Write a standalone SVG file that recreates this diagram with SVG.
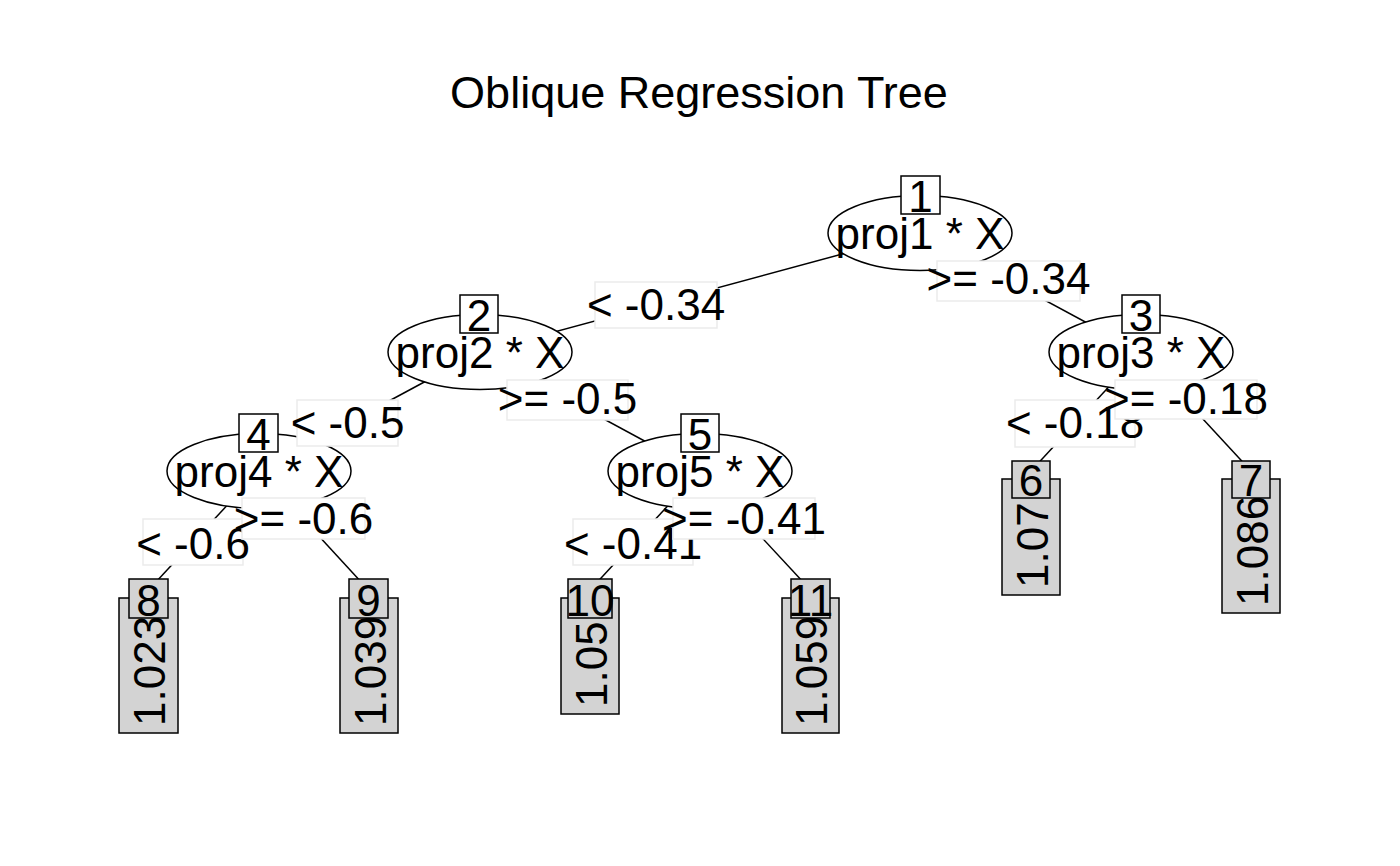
<svg xmlns="http://www.w3.org/2000/svg" width="1400" height="866" viewBox="0 0 1400 866">
<style>
text{font-family:"Liberation Sans",Arial,sans-serif;font-size:44px;fill:#000}
.c{text-anchor:middle}
.t{font-size:45px}
.e{stroke:#000;stroke-width:1.5;fill:none}
.ell{fill:#fff;stroke:#000;stroke-width:1.5}
.nb{fill:#fff;stroke:#000;stroke-width:1.5}
.tb{fill:#d3d3d3;stroke:#000;stroke-width:1.5}
.lb{fill:#fff;stroke:#ebebeb;stroke-width:1.5}
</style>
<rect width="1400" height="866" fill="#fff"/>
<text class="c t" x="699" y="108">Oblique Regression Tree</text>
<g id="edges">
<line class="e" x1="920" y1="233" x2="480" y2="352"/>
<line class="e" x1="920" y1="233" x2="1141" y2="352"/>
<line class="e" x1="480" y1="352" x2="259" y2="471"/>
<line class="e" x1="480" y1="352" x2="700" y2="471"/>
<line class="e" x1="1141" y1="352" x2="1031" y2="471"/>
<line class="e" x1="1141" y1="352" x2="1251" y2="471"/>
<line class="e" x1="259" y1="471" x2="148.5" y2="590"/>
<line class="e" x1="259" y1="471" x2="368.5" y2="590"/>
<line class="e" x1="700" y1="471" x2="590" y2="590"/>
<line class="e" x1="700" y1="471" x2="810.5" y2="590"/>
</g>
<g id="node1"><ellipse class="ell" cx="920" cy="233" rx="92" ry="37.5"/><rect class="nb" x="901" y="176" width="39" height="38"/><text class="c" x="920.5" y="212">1</text><text class="c" x="920" y="249">proj1 * X</text></g>
<g id="node2"><ellipse class="ell" cx="480" cy="352" rx="92" ry="37.5"/><rect class="nb" x="460" y="295" width="38" height="38"/><text class="c" x="479" y="331">2</text><text class="c" x="480" y="368">proj2 * X</text></g>
<g id="node3"><ellipse class="ell" cx="1141" cy="352" rx="92" ry="37.5"/><rect class="nb" x="1122" y="295" width="38" height="38"/><text class="c" x="1141" y="331">3</text><text class="c" x="1141" y="368">proj3 * X</text></g>
<g id="node4"><ellipse class="ell" cx="259" cy="471" rx="92" ry="37.5"/><rect class="nb" x="239" y="414" width="39" height="38"/><text class="c" x="258.5" y="450">4</text><text class="c" x="259" y="487">proj4 * X</text></g>
<g id="node5"><ellipse class="ell" cx="700" cy="471" rx="92" ry="37.5"/><rect class="nb" x="681" y="414" width="38" height="38"/><text class="c" x="700" y="450">5</text><text class="c" x="700" y="487">proj5 * X</text></g>
<g id="labels">
<rect class="lb" x="595" y="282" width="122" height="46"/><text class="c" x="656" y="320">&lt; -0.34</text>
<rect class="lb" x="937" y="261" width="143" height="40"/><text class="c" x="1008.5" y="294">&gt;= -0.34</text>
<rect class="lb" x="297" y="400" width="101" height="46"/><text class="c" x="347.5" y="438">&lt; -0.5</text>
<rect class="lb" x="507" y="380" width="121" height="40"/><text class="c" x="567.5" y="414">&gt;= -0.5</text>
<rect class="lb" x="1015" y="400" width="120" height="47"/><text class="c" x="1075" y="438">&lt; -0.18</text>
<rect class="lb" x="1115" y="380" width="142" height="39"/><text class="c" x="1186" y="414">&gt;= -0.18</text>
<rect class="lb" x="143" y="519" width="100" height="46"/><text class="c" x="193" y="559">&lt; -0.6</text>
<rect class="lb" x="242" y="498" width="123" height="41"/><text class="c" x="303.5" y="534">&gt;= -0.6</text>
<rect class="lb" x="573" y="519" width="120" height="46"/><text class="c" x="633" y="559">&lt; -0.41</text>
<rect class="lb" x="673" y="498" width="142" height="41"/><text class="c" x="744" y="534">&gt;= -0.41</text>
</g>
<g id="node6"><rect class="tb" x="1002" y="479" width="58" height="116"/><text transform="translate(1047.5,588) rotate(-90)">1.07</text><rect class="tb" x="1012" y="461" width="38" height="37"/><text class="c" x="1031" y="496">6</text></g>
<g id="node7"><rect class="tb" x="1222" y="479" width="58" height="134"/><text transform="translate(1267.5,606) rotate(-90)">1.086</text><rect class="tb" x="1232" y="461" width="38" height="37"/><text class="c" x="1251" y="496">7</text></g>
<g id="node8"><rect class="tb" x="119" y="598" width="59" height="135"/><text transform="translate(165,726) rotate(-90)">1.023</text><rect class="tb" x="129" y="579" width="39" height="39"/><text class="c" x="148.5" y="616">8</text></g>
<g id="node9"><rect class="tb" x="340" y="598" width="58" height="135"/><text transform="translate(385.5,726) rotate(-90)">1.039</text><rect class="tb" x="349" y="579" width="39" height="39"/><text class="c" x="368.5" y="616">9</text></g>
<g id="node10"><rect class="tb" x="561" y="598" width="58" height="116"/><text transform="translate(606.5,707) rotate(-90)">1.05</text><rect class="tb" x="568" y="579" width="44" height="39"/><text class="c" x="590" y="616">10</text></g>
<g id="node11"><rect class="tb" x="782" y="598" width="57" height="135"/><text transform="translate(827,726) rotate(-90)">1.059</text><rect class="tb" x="791" y="579" width="39" height="39"/><text class="c" x="810.5" y="616">11</text></g>
</svg>
